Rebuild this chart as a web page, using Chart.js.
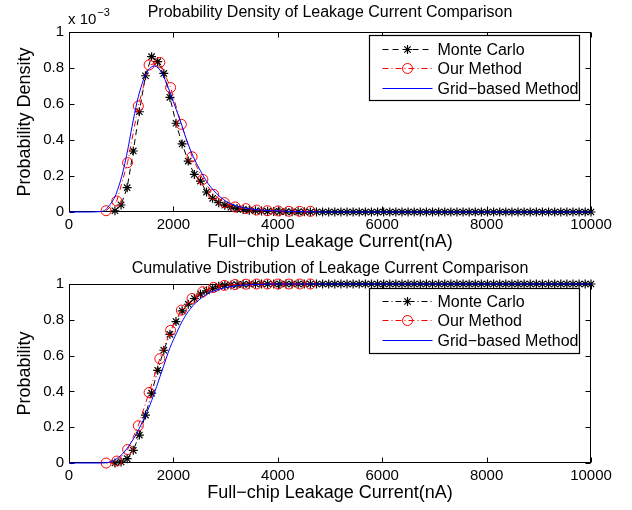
<!DOCTYPE html>
<html>
<head>
<meta charset="utf-8">
<script src="https://cdn.jsdelivr.net/npm/chart.js@4.4.1/dist/chart.umd.min.js"></script>
<style>
  html, body { margin: 0; padding: 0; background: #fff; }
  #wrap { position: relative; width: 632px; height: 510px; }
  canvas { position: absolute; left: 0; display: block; }
  #c1 { top: 0; }
  #c2 { top: 256px; }
</style>
</head>
<body>
<div id="wrap">
  <canvas id="c1" width="632" height="254"></canvas>
  <canvas id="c2" width="632" height="254"></canvas>
</div>
<script>
// ---------- DATA ----------
// x ticks (nA) and y ticks
const xTicks = [0, 2000, 4000, 6000, 8000, 10000];
const yTicks = [0, 0.2, 0.4, 0.6, 0.8, 1];

// Monte Carlo sample positions (nA)
const mcX = [880, 997, 1114, 1231, 1348, 1465, 1582, 1699, 1816, 1933, 2050, 2167, 2284, 2401, 2518, 2635, 2752, 2869, 2986, 3103,
  3220, 3337, 3454, 3571, 3688, 3805, 3922, 4039, 4156, 4273, 4390, 4507, 4624, 4741, 4858, 4975, 5092, 5209, 5326, 5443,
  5560, 5677, 5794, 5911, 6028, 6145, 6262, 6379, 6496, 6613, 6730, 6847, 6964, 7081, 7198, 7315, 7432, 7549, 7666, 7783,
  7900, 8017, 8134, 8251, 8368, 8485, 8602, 8719, 8836, 8953, 9070, 9187, 9304, 9421, 9538, 9655, 9772, 9889, 10000];
// Monte Carlo PDF (x 10^-3)
const mcPdf = [0.007, 0.039, 0.135, 0.339, 0.557, 0.757, 0.863, 0.835, 0.770, 0.637, 0.493, 0.378, 0.283, 0.209, 0.172, 0.111, 0.076, 0.052, 0.038, 0.027,
  0.019, 0.014, 0.010, 0.007, 0.005, 0.004, 0.003, 0.002, 0.002, 0.001, 0.001, 0.001, 0, 0, 0, 0, 0, 0, 0, 0,
  0, 0, 0, 0, 0, 0, 0, 0, 0, 0, 0, 0, 0, 0, 0, 0, 0, 0, 0, 0,
  0, 0, 0, 0, 0, 0, 0, 0, 0, 0, 0, 0, 0, 0, 0, 0, 0, 0, 0];
// Monte Carlo CDF
const mcCdf = [0.000, 0.006, 0.024, 0.071, 0.156, 0.268, 0.390, 0.518, 0.630, 0.719, 0.790, 0.850, 0.887, 0.919, 0.944, 0.962, 0.976, 0.987, 0.992, 0.995,
  0.997, 0.998, 0.999, 1, 1, 1, 1, 1, 1, 1, 1, 1, 1, 1, 1, 1, 1, 1, 1, 1,
  1, 1, 1, 1, 1, 1, 1, 1, 1, 1, 1, 1, 1, 1, 1, 1, 1, 1, 1, 1,
  1, 1, 1, 1, 1, 1, 1, 1, 1, 1, 1, 1, 1, 1, 1, 1, 1, 1, 1];

// Our Method sample positions (nA), PDF (x 10^-3) and CDF
const ourX = [710, 916, 1122, 1328, 1534, 1740, 1946, 2152, 2358, 2564, 2770, 2976, 3182, 3388, 3594, 3800, 4006, 4212, 4418, 4624];
const ourPdf = [0.007, 0.061, 0.274, 0.589, 0.817, 0.831, 0.691, 0.487, 0.307, 0.181, 0.098, 0.052, 0.028, 0.019, 0.011, 0.007, 0.006, 0.004, 0.004, 0.004];
const ourCdf = [0.000, 0.011, 0.075, 0.208, 0.394, 0.583, 0.741, 0.854, 0.919, 0.957, 0.981, 0.992, 0.997, 0.999, 1, 1, 1, 1, 1, 1];

// Grid-based Method curves
const gridPdfX = [0, 300, 594, 700, 754, 820, 881, 950, 1009, 1070, 1137, 1185, 1232, 1280, 1328, 1376, 1424, 1472, 1520, 1568,
  1616, 1680, 1743, 1807, 1871, 1935, 1999, 2063, 2127, 2190, 2254, 2318, 2382, 2446, 2510, 2574, 2637, 2701, 2765, 2829,
  2893, 3021, 3212, 3404, 3659, 3979, 4298, 4600, 5000, 6000, 7000, 8000, 9000, 10000];
const gridPdf = [0, 0, 0.002, 0.012, 0.030, 0.055, 0.085, 0.140, 0.196, 0.270, 0.363, 0.440, 0.511, 0.580, 0.641, 0.690, 0.733, 0.765, 0.789, 0.803,
  0.811, 0.807, 0.789, 0.755, 0.715, 0.665, 0.613, 0.562, 0.511, 0.455, 0.400, 0.350, 0.307, 0.268, 0.233, 0.200, 0.169, 0.144, 0.122, 0.102,
  0.085, 0.057, 0.033, 0.020, 0.011, 0.006, 0.003, 0.001, 0, 0, 0, 0, 0, 0];
const gridCdfX = [0, 600, 700, 785, 913, 1041, 1169, 1296, 1424, 1552, 1680, 1807, 1935, 2063, 2190, 2318, 2446, 2574, 2701, 2893,
  3084, 3340, 3659, 4000, 10000];
const gridCdf = [0, 0, 0.001, 0.006, 0.024, 0.056, 0.105, 0.165, 0.240, 0.325, 0.428, 0.537, 0.644, 0.728, 0.803, 0.859, 0.900, 0.930, 0.953, 0.972,
  0.985, 0.994, 0.998, 1, 1];

// ---------- helpers ----------
const FONT = '"Liberation Sans", Arial, Helvetica, sans-serif';
const pts = (xs, ys) => xs.map((x, i) => ({ x: x, y: ys[i] }));

function drawMarker(ctx, style, x, y, r, color, lw) {
  ctx.save();
  ctx.strokeStyle = color; ctx.lineWidth = lw || 1; ctx.setLineDash([]);
  ctx.beginPath();
  if (style === 'circle') {
    ctx.arc(x, y, r, 0, Math.PI * 2);
  } else {
    ctx.moveTo(x - r, y); ctx.lineTo(x + r, y);
    ctx.moveTo(x, y - r); ctx.lineTo(x, y + r);
    const d = r * 0.7071;
    ctx.moveTo(x - d, y - d); ctx.lineTo(x + d, y + d);
    ctx.moveTo(x - d, y + d); ctx.lineTo(x + d, y - d);
  }
  ctx.stroke();
  ctx.restore();
}

const axesBox = {
  id: 'axesBox',
  beforeDatasetsDraw(chart) {
    const { ctx, chartArea: a, scales } = chart;
    ctx.save();
    ctx.strokeStyle = '#000'; ctx.lineWidth = 1; ctx.setLineDash([]);
    const L = Math.round(a.left) + 0.5, R = Math.round(a.right) - 0.5;
    const T = Math.round(a.top) + 0.5, B = Math.round(a.bottom) - 0.5;
    ctx.strokeRect(L, T, R - L, B - T);
    const tl = 5;
    ctx.beginPath();
    xTicks.forEach(v => {
      const px = Math.round(scales.x.getPixelForValue(v)) + 0.5;
      ctx.moveTo(px, B); ctx.lineTo(px, B - tl);
      ctx.moveTo(px, T); ctx.lineTo(px, T + tl);
    });
    yTicks.forEach(v => {
      const py = Math.round(scales.y.getPixelForValue(v)) + 0.5;
      ctx.moveTo(L, py); ctx.lineTo(L + tl, py);
      ctx.moveTo(R, py); ctx.lineTo(R - tl, py);
    });
    ctx.stroke();
    ctx.restore();
  },
  afterDatasetsDraw(chart) {
    const opts = chart.options.plugins.boxLegend;
    if (!opts) return;
    const { ctx, chartArea: a } = chart;
    const w = 210, h = 65;
    const bx = Math.round(a.right) - 12 - w + 0.5;
    const by = Math.round(a.top) + opts.offset + 0.5;
    ctx.save();
    ctx.fillStyle = '#fff';
    ctx.fillRect(bx, by, w, h);
    ctx.strokeStyle = '#000'; ctx.lineWidth = 1.2; ctx.setLineDash([]);
    ctx.strokeRect(bx, by, w, h);
    const rows = opts.rows;
    chart.data.datasets.forEach((ds, i) => {
      const yy = by + rows[i];
      ctx.save();
      ctx.strokeStyle = ds.borderColor;
      ctx.lineWidth = 1;
      ctx.setLineDash(ds.borderDash ? ds.borderDash : []);
      ctx.beginPath(); ctx.moveTo(bx + 13, yy); ctx.lineTo(bx + 63, yy); ctx.stroke();
      ctx.restore();
      if (ds.pointRadius > 0) drawMarker(ctx, ds.pointStyle, bx + 38, yy, ds.pointRadius, ds.pointBorderColor, ds.pointBorderWidth);
      ctx.fillStyle = '#000';
      ctx.font = '16px ' + FONT;
      ctx.textBaseline = 'middle'; ctx.textAlign = 'left';
      ctx.fillText(ds.label, bx + 68, yy + 1);
    });
    ctx.restore();
  },
  afterDraw(chart) {
    if (!chart.options.plugins.expLabel) return;
    const { ctx, chartArea: a } = chart;
    ctx.save();
    ctx.fillStyle = '#000';
    ctx.textBaseline = 'alphabetic'; ctx.textAlign = 'left';
    ctx.font = '15px ' + FONT;
    const t = 'x 10';
    ctx.fillText(t, a.left - 1, 24);
    const w = ctx.measureText(t).width;
    ctx.font = '11px ' + FONT;
    ctx.fillText('\u22123', a.left - 1 + w + 1, 16);
    ctx.restore();
  }
};

function makeChart(canvasId, cfg) {
  return new Chart(document.getElementById(canvasId), {
    type: 'line',
    data: {
      datasets: [
        {
          label: 'Monte Carlo', data: pts(mcX, cfg.mc),
          borderColor: '#000000', borderWidth: 1, borderDash: cfg.mcDash,
          pointStyle: 'star', pointRadius: 4.5, pointBorderColor: '#000000', pointBorderWidth: 1.2,
          pointBackgroundColor: 'transparent', backgroundColor: 'transparent',
          fill: false, tension: 0, clip: false, order: 2
        },
        {
          label: 'Our Method', data: pts(ourX, cfg.our),
          borderColor: '#ff0000', borderWidth: 1, borderDash: [6, 3, 1, 3],
          pointStyle: 'circle', pointRadius: 5, pointBorderColor: '#ff0000', pointBorderWidth: 1,
          pointBackgroundColor: 'transparent', backgroundColor: 'transparent',
          fill: false, tension: 0, clip: false, order: 1
        },
        {
          label: 'Grid\u2212based Method', data: pts(cfg.gridX, cfg.grid),
          borderColor: '#0000ff', borderWidth: 1, borderDash: [], pointRadius: 0,
          backgroundColor: 'transparent', fill: false,
          cubicInterpolationMode: 'monotone', clip: false, order: 0
        }
      ]
    },
    options: {
      responsive: false, animation: false, devicePixelRatio: 1, events: [],
      layout: { padding: { left: 0, right: 41, top: 0, bottom: cfg.padBottom } },
      plugins: {
        legend: { display: false },
        tooltip: { enabled: false },
        title: {
          display: true, text: cfg.title, color: '#000', fullSize: false,
          font: { family: FONT, size: 16, weight: 'normal' },
          padding: { top: 3, bottom: cfg.titlePadBottom }
        },
        boxLegend: { offset: cfg.legendOffset, rows: cfg.legendRows },
        expLabel: cfg.exp
      },
      scales: {
        x: {
          type: 'linear', min: 0, max: 10000,
          afterBuildTicks(s) { s.ticks = xTicks.map(v => ({ value: v })); },
          afterFit(s) { s.height = 42; },
          ticks: {
            color: '#000', padding: 4, maxRotation: 0, autoSkip: false,
            font: { family: FONT, size: 15 },
            callback: v => String(v)
          },
          grid: { display: false, drawTicks: false },
          border: { display: false },
          title: {
            display: true, text: 'Full\u2212chip Leakage Current(nA)', color: '#000',
            font: { family: FONT, size: 18 }, padding: { top: 0, bottom: 1 }
          }
        },
        y: {
          type: 'linear', min: 0, max: 1,
          afterBuildTicks(s) { s.ticks = yTicks.map(v => ({ value: v })); },
          afterFit(s) { s.width = 69; },
          ticks: {
            color: '#000', padding: 5, autoSkip: false,
            font: { family: FONT, size: 15 },
            callback: v => String(v)
          },
          grid: { display: false, drawTicks: false },
          border: { display: false },
          title: {
            display: true, text: cfg.yTitle, color: '#000',
            font: { family: FONT, size: 18 }, padding: { top: 14, bottom: 0 }
          }
        }
      }
    },
    plugins: [axesBox]
  });
}

makeChart('c1', {
  title: 'Probability Density of Leakage Current Comparison',
  yTitle: 'Probability Density',
  mc: mcPdf, our: ourPdf, gridX: gridPdfX, grid: gridPdf,
  mcDash: [6, 4], padBottom: 0, titlePadBottom: 9.8, legendOffset: 3, legendRows: [14, 33, 53], exp: true
});
makeChart('c2', {
  title: 'Cumulative Distribution of Leakage Current Comparison',
  yTitle: 'Probability',
  mc: mcCdf, our: ourCdf, gridX: gridCdfX, grid: gridCdf,
  mcDash: [6, 3, 1, 3], padBottom: 5, titlePadBottom: 5.8, legendOffset: 4, legendRows: [13, 32, 52], exp: false
});
</script>
</body>
</html>
